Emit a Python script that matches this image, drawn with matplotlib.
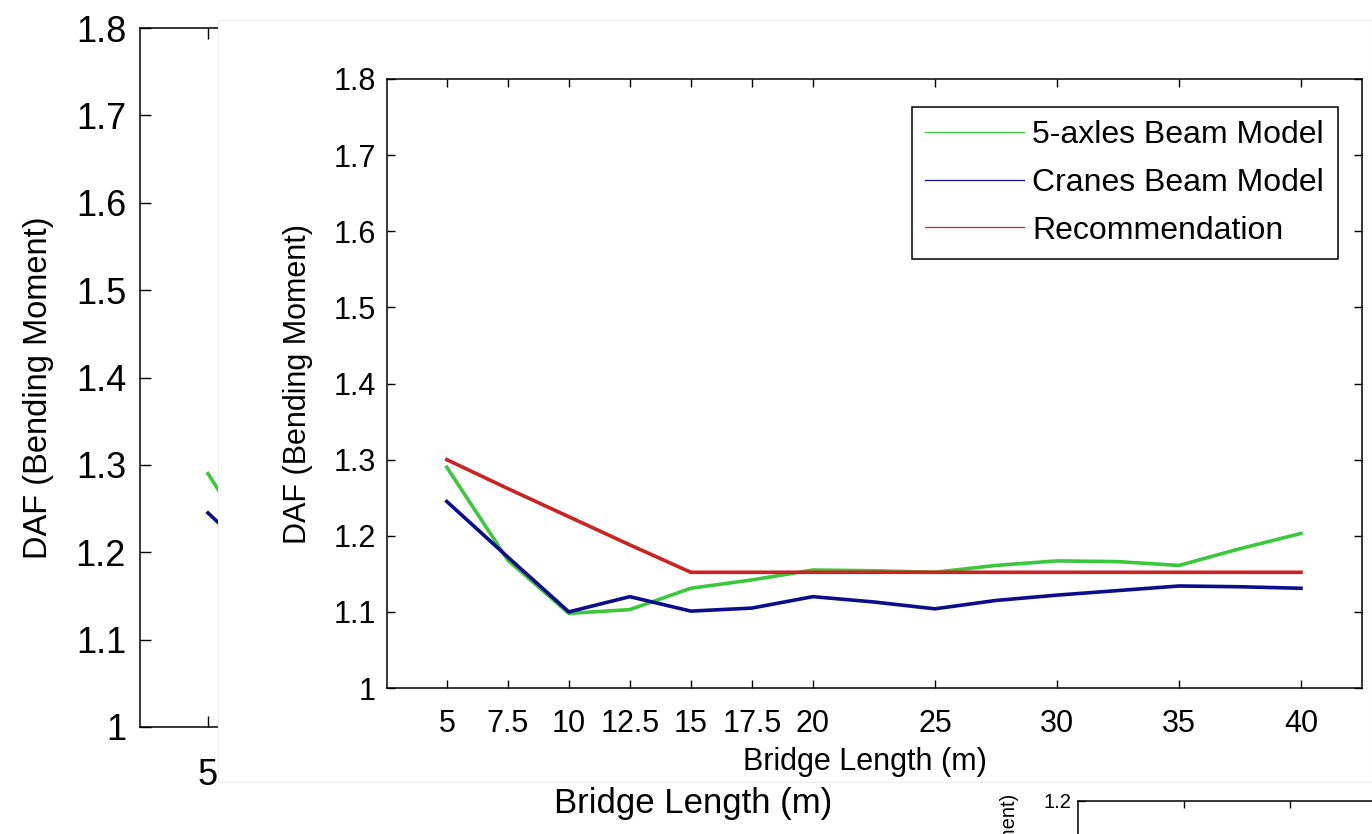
import matplotlib
matplotlib.use("Agg")
import matplotlib.pyplot as plt
from matplotlib.patches import Rectangle

plt.rcParams['font.family'] = ['Liberation Sans', 'DejaVu Sans']

# data
length = [5, 7.5, 10, 12.5, 15, 17.5, 20, 22.5, 25, 27.5, 30, 32.5, 35, 37.5, 40]
daf_5axles = [1.290, 1.168, 1.098, 1.103, 1.131, 1.142, 1.155, 1.154, 1.152,
              1.161, 1.167, 1.166, 1.161, 1.183, 1.203]
daf_cranes = [1.245, 1.172, 1.100, 1.120, 1.101, 1.105, 1.120, 1.113, 1.104,
              1.115, 1.122, 1.128, 1.134, 1.133, 1.131]
daf_recommend = [1.300, 1.262, 1.225, 1.188, 1.152, 1.152, 1.152, 1.152, 1.152,
                 1.152, 1.152, 1.152, 1.152, 1.152, 1.152]
series_names = ['5-axles Beam Model', 'Cranes Beam Model', 'Recommendation']
series_colors = ['#3cc83c', '#0c0c8c', '#cc2222']

xticks = [5, 7.5, 10, 12.5, 15, 17.5, 20, 25, 30, 35, 40]
xticklabels = ['5', '7.5', '10', '12.5', '15', '17.5', '20', '25', '30', '35', '40']
yticks = [1, 1.1, 1.2, 1.3, 1.4, 1.5, 1.6, 1.7, 1.8]
yticklabels = ['1', '1.1', '1.2', '1.3', '1.4', '1.5', '1.6', '1.7', '1.8']

W, H = 1372, 834
fig = plt.figure(figsize=(W / 100, H / 100), dpi=100)


def px_axes(left, top, right, bottom, z):
    ax = fig.add_axes([left / W, 1 - bottom / H, (right - left) / W, (bottom - top) / H])
    ax.set_zorder(z)
    return ax


def style(ax, fs, ticklen, xpad, ypad):
    for s in ax.spines.values():
        s.set_linewidth(1.1)
    ax.tick_params(direction='in', top=True, right=True, length=ticklen,
                   width=1.0, labelsize=fs)
    ax.tick_params(axis='x', pad=xpad)
    ax.tick_params(axis='y', pad=ypad)


def draw_lines(ax, lw, n):
    ys = [daf_5axles, daf_cranes, daf_recommend]
    for y, name, c in list(zip(ys, series_names, series_colors))[:n]:
        ax.plot(length, y, color=c, lw=lw, label=name)


# background chart, mostly hidden behind the front one (only two curves there)
ax_bg = px_axes(140, 28, 1228, 727, 0)
draw_lines(ax_bg, 2.6, 2)
ax_bg.set_xlim(2.5, 42.5)
ax_bg.set_ylim(1, 1.8)
ax_bg.set_xticks(xticks)
# only the first label shows beside the front chart
ax_bg.set_xticklabels(['5'] + [''] * (len(xticks) - 1))
ax_bg.set_yticks(yticks)
ax_bg.set_yticklabels(yticklabels)
style(ax_bg, 26, 8, 22, 10)
ax_bg.set_xlabel('Bridge Length (m)', fontsize=25)
ax_bg.set_ylabel('DAF (Bending Moment)', fontsize=23.5)
ax_bg.xaxis.set_label_coords(0.508, -0.086)
ax_bg.yaxis.set_label_coords(-0.079, 0.485)

# white sheet of the front chart
fig.patches.append(Rectangle((218 / W, 1 - 782 / H), (W - 218) / W, 762 / H,
                             transform=fig.transFigure, facecolor='white',
                             edgecolor='#eeeeee', lw=0.8, zorder=1))

# front chart
ax = px_axes(387, 79, 1362, 688, 2)
draw_lines(ax, 2.6, 3)
ax.set_xlim(2.55, 42.5)
ax.set_ylim(1, 1.8)
ax.set_xticks(xticks)
ax.set_xticklabels(xticklabels)
ax.set_yticks(yticks)
ax.set_yticklabels(yticklabels)
style(ax, 22, 6, 15, 8)
ax.set_xlabel('Bridge Length (m)', fontsize=22)
ax.set_ylabel('DAF (Bending Moment)', fontsize=22)
ax.xaxis.set_label_coords(0.49, -0.097)
ax.yaxis.set_label_coords(-0.076, 0.5)
leg = ax.legend(loc='upper right', bbox_to_anchor=(0.975, 0.954), borderaxespad=0,
                fontsize=23, fancybox=False, framealpha=1, edgecolor='black',
                handlelength=3.1, handletextpad=0.25, labelspacing=0.55,
                borderpad=0.42)
leg.get_frame().set_linewidth(1.1)
for h in leg.get_lines():
    h.set_linewidth(0.9)

# piece of a third chart peeking in at the bottom right
ax_fr = px_axes(1078, 801, 1926, 997, 3)
ax_fr.set_xlim(0, 40)
ax_fr.set_ylim(1.0, 1.2)
ax_fr.set_xticks([5, 10, 15, 20, 25, 30, 35, 40])
ax_fr.set_yticks([1.2])
ax_fr.set_yticklabels(['1.2'])
style(ax_fr, 14.5, 5, 5, 5)
ax_fr.tick_params(axis='x', labelbottom=False)
ax_fr.set_ylabel('DAF (Bending Moment)', fontsize=14.5)
ax_fr.yaxis.set_label_coords(-0.07, 0.5)

fig.savefig('out.png', dpi=100)
